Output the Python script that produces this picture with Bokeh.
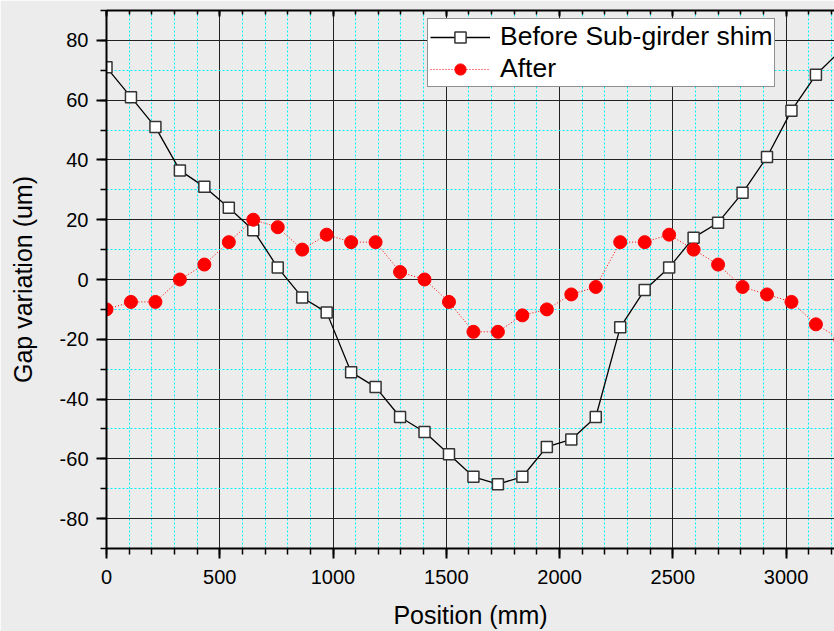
from bokeh.plotting import figure
from bokeh.models import (Range1d, LinearAxis, SingleIntervalTicker, Legend, LegendItem,
                          CustomJSTickFormatter)
from bokeh.embed import file_html
from bokeh.resources import INLINE

# ---- data ----
position = [0, 108, 216, 324, 432, 540, 648, 756, 864, 972, 1080, 1188, 1296, 1404,
            1512, 1620, 1728, 1836, 1944, 2052, 2160, 2268, 2376, 2484, 2592, 2700,
            2808, 2916, 3024, 3132, 3240]
before = [71, 61, 51, 36.5, 31, 24, 16.5, 4, -6, -11, -31, -36, -46, -51,
          -58.5, -66, -68.5, -66, -56, -53.5, -46, -16, -3.5, 4, 14, 19,
          29, 41, 56.5, 68.5, 76.5]
after = [-10, -7.5, -7.5, 0, 5, 12.5, 20, 17.5, 10, 15, 12.5, 12.5, 2.5, 0,
         -7.5, -17.5, -17.5, -12, -10, -5, -2.5, 12.5, 12.5, 15, 10, 5,
         -2.5, -5, -7.5, -15, -20]
series_labels = ["Before Sub-girder shim", "After"]
x_title = "Position (mm)"
y_title = "Gap variation (um)"

FONT = "Liberation Sans"
BG = "#ececec"

p = figure(width=834, height=631, output_backend="svg", toolbar_location=None,
           x_range=Range1d(0, 3214), y_range=Range1d(-90, 90),
           min_border_left=106, min_border_right=0, min_border_top=10,
           min_border_bottom=82)
p.background_fill_color = BG
p.border_fill_color = BG
p.outline_line_color = None

# top mirror axis (ticks only, no labels)
top = LinearAxis(formatter=CustomJSTickFormatter(code="return ''"),
                 major_label_standoff=0, major_label_text_font_size="1px",
                 major_tick_in=6, major_tick_out=0, minor_tick_in=4, minor_tick_out=0)
p.add_layout(top, "above")

p.xaxis.ticker = SingleIntervalTicker(interval=500, num_minor_ticks=5)
p.yaxis.ticker = SingleIntervalTicker(interval=20, num_minor_ticks=2)

for ax in p.xaxis + p.yaxis:
    ax.axis_line_color = "black"
    ax.axis_line_width = 2
    ax.major_tick_line_color = "black"
    ax.major_tick_line_width = 2
    ax.minor_tick_line_color = "black"
    ax.minor_tick_line_width = 1.5

fmt = "return String(Math.round(tick))"
for ax in [p.below[0], p.left[0]]:
    ax.formatter = CustomJSTickFormatter(code=fmt)
    ax.major_tick_in = 0
    ax.major_tick_out = 10
    ax.minor_tick_in = 0
    ax.minor_tick_out = 6
    ax.major_label_text_font = FONT
    ax.major_label_text_font_size = "20px"
    ax.major_label_text_color = "black"
    ax.axis_label_text_font = FONT
    ax.axis_label_text_font_size = "25px"
    ax.axis_label_text_font_style = "normal"
    ax.axis_label_text_color = "black"

p.below[0].axis_label = x_title
p.below[0].major_label_standoff = 11
p.below[0].axis_label_standoff = 14
p.left[0].axis_label = y_title
p.left[0].major_label_standoff = 8
p.left[0].axis_label_standoff = 20

for g in [p.xgrid[0], p.ygrid[0]]:
    g.grid_line_color = "#222222"
    g.grid_line_width = 1
    g.minor_grid_line_color = "#00f0ff"
    g.minor_grid_line_width = 1
    g.minor_grid_line_dash = "2 2"

l1 = p.line(position, before, line_color="black", line_width=1.3)
s1 = p.scatter(position, before, marker="square", size=11, fill_color="white",
               line_color="#333333", line_width=1.5)
l2 = p.line(position, after, line_color="red", line_width=1, line_dash="1 2")
s2 = p.scatter(position, after, marker="circle", size=13, fill_color="red",
               line_color="red")

legend = Legend(items=[LegendItem(label=series_labels[0], renderers=[l1, s1]),
                       LegendItem(label=series_labels[1], renderers=[l2, s2])],
                location=(321, 461))
legend.label_text_font = FONT
legend.label_text_font_size = "26.5px"
legend.label_text_color = "black"
legend.glyph_width = 60
legend.glyph_height = 28
legend.label_height = 26
legend.spacing = 1
legend.padding = 2
legend.margin = 0
legend.label_standoff = 10
legend.border_line_color = "#222222"
legend.border_line_width = 1
legend.background_fill_color = "white"
legend.background_fill_alpha = 1
p.add_layout(legend, "center")

open("out.html", "w").write(file_html(p, INLINE))
